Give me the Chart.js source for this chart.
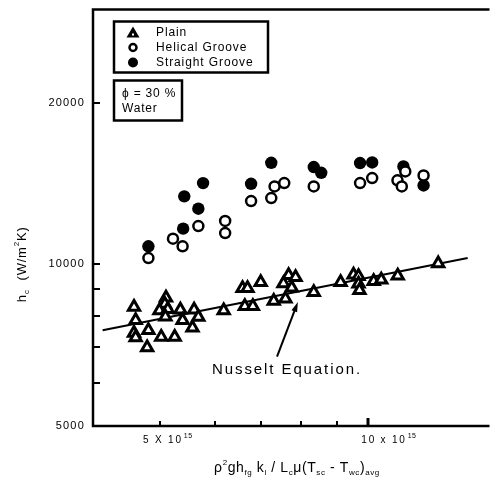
<!DOCTYPE html>
<html lang="en">
<head>
<meta charset="UTF-8">
<title>Condensation heat transfer coefficient</title>
<script src="https://cdn.jsdelivr.net/npm/chart.js"></script>
<style>
  html, body { margin: 0; padding: 0; background: #fff; }
  canvas { display: block; }
</style>
</head>
<body>
<canvas id="chart" width="497" height="479"></canvas>
<script>
// x values are in units of 10^15, y values are h_c in W/m2K
const plainX = [4.585, 4.61, 4.585, 4.61, 4.81, 4.79, 5.02, 5.25, 5.10, 5.08,
                4.99, 5.13, 5.09, 5.35, 5.39, 5.60, 5.68, 5.57, 6.18, 6.63,
                6.81, 6.58, 6.69, 6.99, 7.30, 7.59, 7.67, 7.85, 7.54, 7.75,
                8.34, 9.12, 9.52, 9.68, 9.68, 9.71, 10.18, 10.44, 11.03, 12.62];
const plainY = [8330, 7870, 7450, 7310, 7540, 7000, 7320, 7320, 8660, 8430,
                8200, 8250, 7990, 8230, 7870, 8230, 7980, 7620, 8200, 8350,
                8350, 9020, 9020, 9260, 8540, 8630, 9540, 9460, 9210, 9040,
                8870, 9260, 9560, 9500, 9200, 8950, 9300, 9360, 9520, 10030];

const helicalX = [4.81, 5.22, 5.39, 5.68, 6.21, 6.21, 6.77, 7.32, 7.24, 7.56,
                  8.34, 9.73, 10.13, 11.02, 11.18, 11.31, 12.02];
const helicalY = [10270, 11160, 10800, 11780, 12040, 11430, 13110, 13960, 13280, 14160,
                  13960, 14160, 14470, 14330, 13960, 14890, 14630];

const straightX = [4.81, 5.40, 5.42, 5.68, 5.77, 6.77, 7.24, 8.34, 8.55, 9.73,
                   10.13, 11.24, 12.02];
const straightY = [10800, 11650, 13380, 12690, 14160, 14120, 15450, 15170, 14800, 15430,
                   15470, 15210, 14020];

// Nusselt equation line end points
const nusseltX = [4.13, 13.92];
const nusseltY = [7540, 10270];

const xTicks = [5, 6, 7, 8, 9, 10];
const xTickLabels = ['5 X 10', '', '', '', '', '10 x 10'];
const yTicks = [5000, 6000, 7000, 8000, 9000, 10000, 20000];
const yTickLabels = ['5000', '', '', '', '', '10000', '20000'];

const legendNames = ['Plain', 'Helical Groove', 'Straight Groove'];
const infoLines = ['\u03D5 = 30 %', 'Water'];
const noteText = 'Nusselt Equation.';
const noteAt = {x: 7.63, y: 6350};
const arrowFrom = {x: 7.38, y: 6730};
const arrowTo = {x: 7.91, y: 8510};

const FONT = '"Liberation Sans", Arial, sans-serif';

function zip(xs, ys) {
  return xs.map((x, i) => ({x: x, y: ys[i]}));
}

function spacedWidth(ctx, s, spacing) {
  return ctx.measureText(s).width + spacing * s.length;
}

function drawSpaced(ctx, s, x, y, size, spacing, align) {
  ctx.font = size + 'px ' + FONT;
  ctx.letterSpacing = '0px';
  let w = spacedWidth(ctx, s, spacing);
  let left = x;
  if (align === 'center') left = x - w / 2;
  if (align === 'right') left = x - w;
  ctx.letterSpacing = spacing + 'px';
  ctx.textAlign = 'left';
  ctx.textBaseline = 'middle';
  ctx.fillText(s, left, y);
  ctx.letterSpacing = '0px';
}

// parts: [text, mode] where mode 0 = normal, 1 = superscript, -1 = subscript
function drawRich(ctx, parts, cx, cy, size, small, spacing) {
  let total = 0;
  parts.forEach(p => {
    ctx.font = (p[1] ? small : size) + 'px ' + FONT;
    total += spacedWidth(ctx, p[0], spacing);
  });
  let x = cx - total / 2;
  ctx.textAlign = 'left';
  ctx.textBaseline = 'middle';
  parts.forEach(p => {
    ctx.font = (p[1] ? small : size) + 'px ' + FONT;
    let dy = p[1] === 1 ? -size * 0.38 : (p[1] === -1 ? size * 0.35 : 0);
    ctx.letterSpacing = spacing + 'px';
    ctx.fillText(p[0], x, cy + dy);
    ctx.letterSpacing = '0px';
    x += spacedWidth(ctx, p[0], spacing);
  });
}

const decor = {
  id: 'decor',
  afterDraw(chart) {
    const ctx = chart.ctx;
    const a = chart.chartArea;
    const xs = chart.scales.x, ys = chart.scales.y;
    ctx.save();
    ctx.strokeStyle = '#000';
    ctx.fillStyle = '#000';

    // frame (left, top, bottom)
    ctx.lineWidth = 2.5;
    ctx.beginPath();
    ctx.moveTo(a.right + 2, a.top);
    ctx.lineTo(a.left, a.top);
    ctx.lineTo(a.left, a.bottom);
    ctx.lineTo(a.right + 2, a.bottom);
    ctx.stroke();

    // inward ticks
    xTicks.forEach((v, i) => {
      const px = Math.round(xs.getPixelForValue(v));
      const len = v === 10 ? 8 : 5;
      ctx.lineWidth = v === 10 ? 3 : 2;
      ctx.beginPath();
      ctx.moveTo(px, a.bottom);
      ctx.lineTo(px, a.bottom - len);
      ctx.stroke();
    });
    yTicks.forEach(v => {
      const py = Math.round(ys.getPixelForValue(v));
      ctx.lineWidth = 2;
      ctx.beginPath();
      ctx.moveTo(a.left, py);
      ctx.lineTo(a.left + 7, py);
      ctx.stroke();
    });

    // tick labels
    yTicks.forEach((v, i) => {
      if (!yTickLabels[i]) return;
      drawSpaced(ctx, yTickLabels[i], a.left - 8, ys.getPixelForValue(v), 11, 1.2, 'right');
    });
    xTicks.forEach((v, i) => {
      if (!xTickLabels[i]) return;
      const px = xs.getPixelForValue(v);
      const left = px - (v === 5 ? 17 : 7);
      ctx.font = '10px ' + FONT;
      ctx.letterSpacing = '0px';
      const w = spacedWidth(ctx, xTickLabels[i], 1.8);
      drawSpaced(ctx, xTickLabels[i], left, a.bottom + 14, 10, 1.8, 'left');
      drawSpaced(ctx, '15', left + w + 1, a.bottom + 10, 7, 0.5, 'left');
    });

    // axis titles
    drawRich(ctx, [['\u03C1', 0], ['2', 1], ['gh', 0], ['fg', -1], [' k', 0], ['l', -1],
                   [' / L', 0], ['c', -1], ['\u03BC(T', 0], ['sc', -1], [' - T', 0],
                   ['wc', -1], [')', 0], ['avg', -1]],
             297, a.bottom + 42, 14, 8, 0.6);
    ctx.save();
    ctx.translate(22, ys.getPixelForValue(10000));
    ctx.rotate(-Math.PI / 2);
    drawRich(ctx, [['h', 0], ['c', -1], ['  (W/m', 0], ['2', 1], ['K)', 0]], 0, 0, 13, 8, 0.8);
    ctx.restore();

    // legend box
    const lx = a.left + 21, ly = a.top + 12;
    ctx.lineWidth = 2.5;
    ctx.strokeRect(lx, ly, 154, 51);
    legendNames.forEach((name, i) => {
      const my = ly + 11 + i * 15;
      const mx = lx + 19;
      if (i === 0) {
        ctx.beginPath();
        ctx.moveTo(mx, my - 6);
        ctx.lineTo(mx + 6.5, my + 5);
        ctx.lineTo(mx - 6.5, my + 5);
        ctx.closePath();
        ctx.fill();
        ctx.fillStyle = '#fff';
        ctx.fillRect(mx - 1, my + 1, 2, 2);
        ctx.fillStyle = '#000';
      } else if (i === 1) {
        ctx.lineWidth = 2.5;
        ctx.beginPath();
        ctx.arc(mx, my, 3.5, 0, Math.PI * 2);
        ctx.stroke();
      } else {
        ctx.beginPath();
        ctx.arc(mx, my, 5, 0, Math.PI * 2);
        ctx.fill();
      }
      drawSpaced(ctx, name, lx + 42, my, 12, 0.9, 'left');
    });

    // info box
    const bx = a.left + 21, by = a.top + 71;
    ctx.lineWidth = 2.5;
    ctx.strokeRect(bx, by, 68, 40);
    infoLines.forEach((t, i) => {
      drawSpaced(ctx, t, bx + 8, by + 13 + i * 15, 12, 0.8, 'left');
    });

    // annotation arrow and text
    const x0 = xs.getPixelForValue(arrowFrom.x), y0 = ys.getPixelForValue(arrowFrom.y);
    const x1 = xs.getPixelForValue(arrowTo.x), y1 = ys.getPixelForValue(arrowTo.y);
    const ang = Math.atan2(y1 - y0, x1 - x0);
    ctx.lineWidth = 2;
    ctx.beginPath();
    ctx.moveTo(x0, y0);
    ctx.lineTo(x1 - Math.cos(ang) * 6, y1 - Math.sin(ang) * 6);
    ctx.stroke();
    ctx.beginPath();
    ctx.moveTo(x1, y1);
    ctx.lineTo(x1 - Math.cos(ang) * 10 + Math.sin(ang) * 3, y1 - Math.sin(ang) * 10 - Math.cos(ang) * 3);
    ctx.lineTo(x1 - Math.cos(ang) * 10 - Math.sin(ang) * 3, y1 - Math.sin(ang) * 10 + Math.cos(ang) * 3);
    ctx.closePath();
    ctx.fill();
    drawSpaced(ctx, noteText, xs.getPixelForValue(noteAt.x), ys.getPixelForValue(noteAt.y), 15, 1.9, 'center');

    ctx.restore();
  }
};

const chart = new Chart(document.getElementById('chart').getContext('2d'), {
  type: 'scatter',
  data: {
    datasets: [
      {
        label: legendNames[0],
        data: zip(plainX, plainY),
        pointStyle: 'triangle',
        pointRadius: 6.5,
        borderWidth: 3,
        borderColor: '#000',
        backgroundColor: '#fff'
      },
      {
        label: legendNames[1],
        data: zip(helicalX, helicalY),
        pointStyle: 'circle',
        pointRadius: 5,
        borderWidth: 2.5,
        borderColor: '#000',
        backgroundColor: '#fff'
      },
      {
        label: legendNames[2],
        data: zip(straightX, straightY),
        pointStyle: 'circle',
        pointRadius: 6.2,
        borderWidth: 0,
        borderColor: '#000',
        backgroundColor: '#000'
      },
      {
        type: 'line',
        label: 'Nusselt Equation',
        data: zip(nusseltX, nusseltY),
        borderColor: '#000',
        borderWidth: 2,
        pointRadius: 0,
        fill: false
      }
    ]
  },
  options: {
    responsive: false,
    devicePixelRatio: 1,
    animation: false,
    layout: { padding: { top: 9, left: 0, right: 0, bottom: 0 } },
    plugins: {
      legend: { display: false },
      tooltip: { enabled: false }
    },
    scales: {
      x: {
        type: 'logarithmic',
        min: 4,
        max: 14.87,
        afterBuildTicks: s => { s.ticks = xTicks.map(v => ({value: v})); },
        afterFit: s => { s.height = 53; },
        ticks: { display: false },
        grid: { display: false },
        border: { display: false }
      },
      y: {
        type: 'logarithmic',
        min: 5000,
        max: 29800,
        afterBuildTicks: s => { s.ticks = yTicks.map(v => ({value: v})); },
        afterFit: s => { s.width = 93; },
        ticks: { display: false },
        grid: { display: false },
        border: { display: false }
      }
    }
  },
  plugins: [decor]
});
</script>
</body>
</html>
